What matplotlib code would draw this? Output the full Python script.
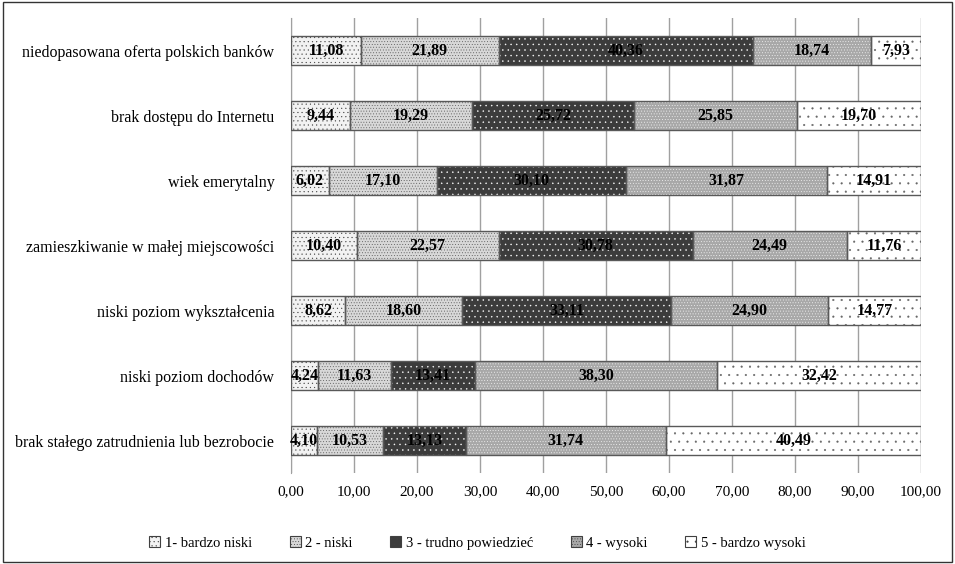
import matplotlib
matplotlib.use("Agg")
import matplotlib.pyplot as plt
from matplotlib.patches import Rectangle, Patch
import numpy as np

plt.rcParams['font.family'] = ['Liberation Serif', 'DejaVu Serif']
plt.rcParams['hatch.linewidth'] = 0.3

categories = [
    "niedopasowana oferta polskich banków",
    "brak dostępu do Internetu",
    "wiek emerytalny",
    "zamieszkiwanie w małej miejscowości",
    "niski poziom wykształcenia",
    "niski poziom dochodów",
    "brak stałego zatrudnienia lub bezrobocie",
]
series_names = ["1- bardzo niski", "2 - niski", "3 - trudno powiedzieć", "4 - wysoki", "5 - bardzo wysoki"]
s1 = [11.08, 9.44, 6.02, 10.40, 8.62, 4.24, 4.10]
s2 = [21.89, 19.29, 17.10, 22.57, 18.60, 11.63, 10.53]
s3 = [40.36, 25.72, 30.10, 30.78, 33.11, 13.41, 13.13]
s4 = [18.74, 25.85, 31.87, 24.49, 24.90, 38.30, 31.74]
s5 = [7.93, 19.70, 14.91, 11.76, 14.77, 32.42, 40.49]
xticks = [0, 10, 20, 30, 40, 50, 60, 70, 80, 90, 100]

series = [s1, s2, s3, s4, s5]
styles = [
    dict(face='#f2f2f2', hatch='....', hcol='#444444'),
    dict(face='#d8d8d8', hatch='......', hcol='#555555'),
    dict(face='#3c3c3c', hatch='...', hcol='#ffffff'),
    dict(face='#a8a8a8', hatch='......', hcol='#f4f4f4'),
    dict(face='#ffffff', hatch='..', hcol='#666666'),
]

fig = plt.figure(figsize=(9.55, 5.64), dpi=100)
ax = fig.add_axes([0.3047, 0.1613, 0.6597, 0.8067])

y = np.arange(len(categories))[::-1]
left = np.zeros(len(categories))
h = 0.44
for vals, st in zip(series, styles):
    vals = np.array(vals)
    ax.barh(y, vals, left=left, height=h, color=st['face'], hatch=st['hatch'],
            edgecolor=st['hcol'], linewidth=0, zorder=3)
    ax.barh(y, vals, left=left, height=h, fill=False, edgecolor='#595959',
            linewidth=1.0, zorder=4)
    for yi, l, v in zip(y, left, vals):
        ax.text(l + v / 2, yi, f"{v:.2f}".replace('.', ','), ha='center', va='center',
                fontsize=11.5, fontweight='bold', color='black', zorder=5)
    left += vals

ax.set_xlim(0, 100)
ax.set_ylim(-0.5, len(categories) - 0.5)
ax.set_xticks(xticks)
ax.set_xticklabels([f"{t:.2f}".replace('.', ',') for t in xticks], fontsize=11)
ax.set_yticks(y)
ax.set_yticklabels(categories, fontsize=11.5)
ax.tick_params(axis='both', length=0)
ax.tick_params(axis='x', pad=9)
ax.tick_params(axis='y', pad=12)
ax.grid(axis='x', color='#a0a0a0', linewidth=1, zorder=0)
for s in ['top', 'right', 'bottom']:
    ax.spines[s].set_visible(False)
ax.spines['left'].set_color('#a0a0a0')

handles = [Patch(facecolor=st['face'], hatch=st['hatch'], edgecolor='#404040', linewidth=0.8)
           for st in styles]
fig.legend(handles, series_names, loc='center', bbox_to_anchor=(0.5, 0.037), ncol=5,
           frameon=False, fontsize=10.5, handlelength=0.75, handleheight=0.75,
           handletextpad=0.3, columnspacing=2.6)

fig.patches.append(Rectangle((0.003, 0.003), 0.994, 0.994, transform=fig.transFigure,
                             fill=False, edgecolor='#333333', linewidth=1))

fig.savefig("out.png", dpi=100)
